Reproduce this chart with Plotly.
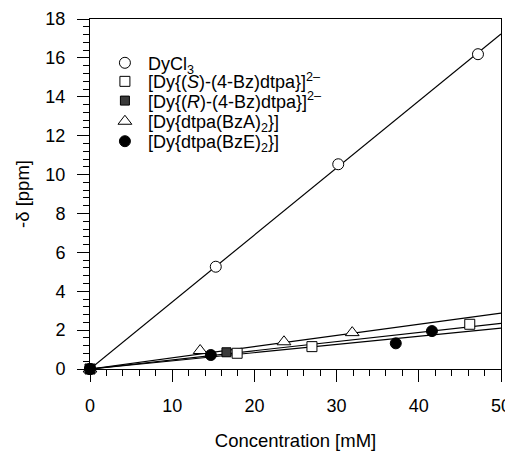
import plotly.graph_objects as go

# ---- data ----
x_dycl3 = [0, 15.3, 30.2, 47.2]
y_dycl3 = [0, 5.26, 10.53, 16.19]
x_s = [0, 17.9, 27.0, 46.2]
y_s = [0, 0.81, 1.15, 2.30]
x_r = [0, 16.6]
y_r = [0, 0.86]
x_bza = [0, 13.4, 23.6, 31.9]
y_bza = [0, 0.95, 1.40, 1.87]
x_bze = [0, 14.7, 37.2, 41.6]
y_bze = [0, 0.72, 1.32, 1.95]

fit_x = [0, 50]
fit_slopes = [0.3446, 0.0574, 0.047, 0.042]  # DyCl3, BzA, Bz-dtpa, BzE

names = ["DyCl<sub>3</sub>",
         "[Dy{(<i>S</i>)-(4-Bz)dtpa}]<sup>2–</sup>",
         "[Dy{(<i>R</i>)-(4-Bz)dtpa}]<sup>2–</sup>",
         "[Dy{dtpa(BzA)<sub>2</sub>}]",
         "[Dy{dtpa(BzE)<sub>2</sub>}]"]

FONT = "Liberation Sans, Arial, sans-serif"

fig = go.Figure()

for s in fit_slopes:
    fig.add_trace(go.Scatter(x=fit_x, y=[s * v for v in fit_x], mode="lines",
                             line=dict(color="black", width=1.2),
                             showlegend=False, hoverinfo="skip"))

series = [
    (x_dycl3, y_dycl3, dict(symbol="circle", size=11, color="white", line=dict(color="black", width=1))),
    (x_s, y_s, dict(symbol="square", size=10, color="white", line=dict(color="black", width=1))),
    (x_r, y_r, dict(symbol="square", size=9, color="#3a3a3a", line=dict(color="black", width=1))),
    (x_bza, y_bza, dict(symbol="triangle-up", size=12, color="white", line=dict(color="black", width=1))),
    (x_bze, y_bze, dict(symbol="circle", size=11, color="black", line=dict(color="black", width=1))),
]
legend_ids = ["legend", "legend2", "legend3", "legend4", "legend5"]
for (xs, ys, mk), nm, lg in zip(series, names, legend_ids):
    fig.add_trace(go.Scatter(x=xs, y=ys, mode="markers", name=nm, marker=mk,
                             cliponaxis=False, legend=lg))

axis_common = dict(
    showline=True, linecolor="black", linewidth=1, mirror=True,
    ticks="outside", ticklen=12, tickwidth=1, tickcolor="black",
    showgrid=False, zeroline=False, automargin=False,
    tickfont=dict(family=FONT, size=18, color="black"),
)

fig.update_xaxes(range=[0, 50], dtick=10, tick0=0, ticklabelstandoff=8,
                 minor=dict(dtick=2, ticks="outside", ticklen=6, tickcolor="black", showgrid=False),
                 title=dict(text="Concentration [mM]", font=dict(family=FONT, size=18.5, color="black"), standoff=21),
                 **axis_common)
fig.update_yaxes(range=[0, 18], dtick=2, tick0=0, ticklabelstandoff=8,
                 minor=dict(dtick=0.4, ticks="outside", ticklen=6, tickcolor="black", showgrid=False),
                 title=dict(text="-δ [ppm]", font=dict(family=FONT, size=18.5, color="black"), standoff=10),
                 **axis_common)

legend_rows = [0.874, 0.821, 0.766, 0.707, 0.650]
layout_legends = {}
for lg, ry in zip(legend_ids, legend_rows):
    layout_legends[lg] = dict(x=0.029, y=ry, xanchor="left", yanchor="middle",
                              bgcolor="rgba(0,0,0,0)", itemwidth=36,
                              font=dict(family=FONT, size=18, color="black"))

# page body has an 8px margin, so the figure is drawn 8px in from the window corner
fig.update_layout(
    width=505, height=443,
    margin=dict(l=82, r=12, t=11, b=82),
    paper_bgcolor="white", plot_bgcolor="white",
    font=dict(family=FONT, color="black"),
    **layout_legends,
)

fig.write_html("out.html")
